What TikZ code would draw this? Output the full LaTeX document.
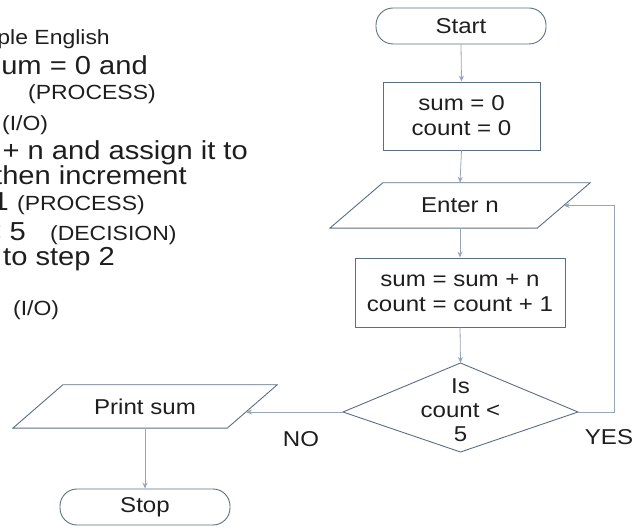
\documentclass[tikz,border=0pt]{standalone}
\usepackage{fontspec}
\setmainfont[FakeStretch=1.12]{Liberation Sans}
\usetikzlibrary{arrows.meta,calc}
\definecolor{shapecol}{RGB}{92,110,130}
\definecolor{linecol}{RGB}{150,166,182}
\definecolor{txtcol}{RGB}{30,30,30}
\newcommand{\flowfont}{\fontsize{21.5}{25}\selectfont}
\newcommand{\bigfont}{\fontsize{26}{28}\selectfont}
\newcommand{\smallfont}{\fontsize{20.5}{23}\selectfont}
\begin{document}
\begin{tikzpicture}[x=1pt,y=-1pt,
  shp/.style={draw=shapecol, line width=0.9pt},
  term/.style={shp, rectangle, rounded corners=17pt, minimum width=170pt, minimum height=36pt, font=\flowfont, text=txtcol},
  proc/.style={shp, rectangle, align=center, font=\flowfont, text=txtcol, inner sep=0pt},
  iobox/.style={rectangle, inner sep=0pt, align=center, font=\flowfont, text=txtcol},
  conn/.style={draw=linecol, line width=0.8pt, -{Stealth[length=6pt,width=5pt]}},
  lbl/.style={font=\flowfont, text=txtcol, inner sep=0pt},
  bigtxt/.style={font=\bigfont, text=txtcol, inner sep=0pt},
  smalltxt/.style={font=\smallfont, text=txtcol, inner sep=0pt}]
\useasboundingbox (0,0) rectangle (638,529);
\clip (0,0) rectangle (638,529);

% left-hand text (cropped at the left edge)
\node[smalltxt, anchor=mid east] (t1) at (110,42) {mple English};
\node[bigtxt, anchor=mid east] (t2) at (148,72) {sum = 0 and};
\node[smalltxt, anchor=mid west] (t3) at (28,97) {(PROCESS)};
\node[smalltxt, anchor=mid west] (t4) at (2,128) {(I/O)};
\node[bigtxt, anchor=mid east] (t5) at (248,157) {+ n and assign it to};
\node[bigtxt, anchor=mid east] (t6) at (187,182) {then increment};
\node[bigtxt, anchor=mid east] (t7a) at (9,208) {1};
\node[smalltxt, anchor=mid west] (t7b) at (17,208) {(PROCESS)};
\node[bigtxt, anchor=mid east] (t8a) at (26,238) {< 5};
\node[smalltxt, anchor=mid west] (t8b) at (50,238) {(DECISION)};
\node[bigtxt, anchor=mid west] (t9) at (3,263) {to step 2};
\node[smalltxt, anchor=mid west] (t10) at (13,313) {(I/O)};

% flowchart
\node[term] (start) at (461,26) {Start};
\node[proc, minimum width=157pt, minimum height=68pt] (init) at (461.5,116) {sum = 0\\count = 0};

\node[iobox, minimum width=207pt, minimum height=45pt] (enter) at (460,205.5) {Enter n};
\draw[shp] ([xshift=-26.5pt]enter.south west) -- ([xshift=-26.5pt]enter.south east)
  -- ([xshift=26.5pt]enter.north east) -- ([xshift=26.5pt]enter.north west) -- cycle;

\node[proc, minimum width=210pt, minimum height=69pt] (upd) at (460,292.5) {sum = sum + n\\count = count + 1};

\node[lbl, align=center, font=\fontsize{21.5}{24}\selectfont] (dia) at (460.5,410) {Is\\count <\\5};
\coordinate (diaT) at (460.5,363);
\coordinate (diaB) at (460.5,452);
\coordinate (diaL) at (343,412);
\coordinate (diaR) at (578,412);
\draw[shp] (diaT) -- (diaR) -- (diaB) -- (diaL) -- cycle;

\node[iobox, minimum width=214pt, minimum height=43pt] (print) at (145,406.5) {Print sum};
\draw[shp] ([xshift=-25pt]print.south west) -- ([xshift=-25pt]print.south east)
  -- ([xshift=25pt]print.north east) -- ([xshift=25pt]print.north west) -- cycle;
\coordinate (printin) at (246,412);

\node[term] (stop) at (145,507) {Stop};

\node[lbl] (no) at (301,439) {NO};
\node[lbl] (yes) at (609,437) {YES};

% connectors
\draw[conn] (start.south) -- (init.north);
\draw[conn] (init.south) -- (enter.north);
\draw[conn] (enter.south) -- (upd.north);
\draw[conn] (upd.south) -- (diaT);
\draw[conn] (diaR) -- ++(36,0) |- (enter.east);
\draw[conn] (diaL) -- (printin);
\draw[conn] (print.south) -- (stop.north);
\end{tikzpicture}
\end{document}
